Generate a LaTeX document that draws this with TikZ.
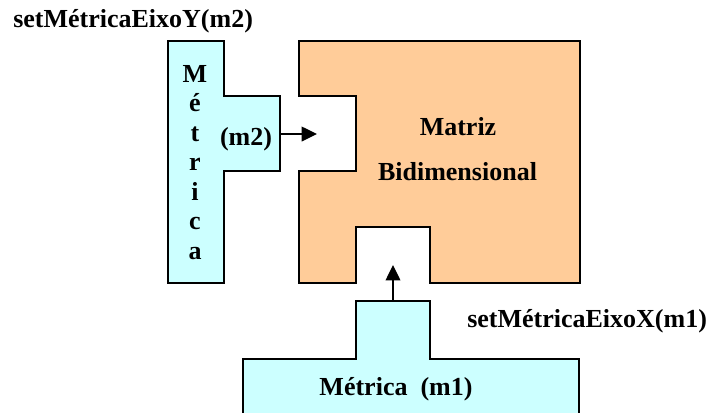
\documentclass[tikz,border=0pt]{standalone}
\usepackage{fontspec}
\setmainfont{Liberation Serif}
\usetikzlibrary{arrows.meta}
\definecolor{metricfill}{HTML}{CCFFFF}
\definecolor{matrixfill}{HTML}{FFCC99}
\begin{document}
\begin{tikzpicture}[x=0.75pt,y=-0.75pt,
  blockline/.style={draw=black,line width=1.1pt,line join=miter},
  metricblock/.style={blockline,fill=metricfill},
  matrixblock/.style={blockline,fill=matrixfill},
  lbl/.style={font=\fontsize{19.5}{23}\selectfont\bfseries,inner sep=0pt},
  callarrow/.style={line width=1.1pt,-{Triangle[length=11.5pt,width=11pt]}}]
\clip (0,0) rectangle (706,412);

% two-dimensional matrix with two receiving notches
\path[matrixblock] (299,41) -- (580,41) -- (580,283) -- (430,283) -- (430,227)
  -- (356,227) -- (356,283) -- (299,283) -- (299,171) -- (356,171) -- (356,96)
  -- (299,96) -- cycle;

% vertical metric (Y axis)
\path[metricblock] (168,41) -- (224,41) -- (224,96) -- (280,96) -- (280,171)
  -- (224,171) -- (224,283) -- (168,283) -- cycle;

% horizontal metric (X axis)
\path[metricblock] (243,430) -- (243,359) -- (356,359) -- (356,301) -- (430,301)
  -- (430,359) -- (579,359) -- (579,430) -- cycle;

% labels
\node[lbl,anchor=base west] (ylabel) at (13,27) {setMétricaEixoY(m2)};
\node[lbl,anchor=base west] (xlabel) at (467,327) {setMétricaEixoX(m1)};
\node[lbl,anchor=base] (matriz) at (458,135) {Matriz};
\node[lbl,anchor=base] (bidim) at (457.5,180) {Bidimensional};
\node[lbl,anchor=base] (m2) at (246,145) {(m2)};
\node[lbl,anchor=base] (m1) at (396,395) {Métrica~~(m1)};
\foreach \ch [count=\i] in {M,é,t,r,i,c,a}
  \node[lbl,anchor=base] (v\i) at (195,{82+29.5*(\i-1)}) {\ch};

% calls into the matrix
\coordinate (ystart) at (280,134);
\coordinate (yend) at (317,134);
\coordinate (xstart) at (393,301);
\coordinate (xend) at (393,265);
\draw[callarrow] (ystart) -- (yend);
\draw[callarrow] (xstart) -- (xend);
\end{tikzpicture}
\end{document}
